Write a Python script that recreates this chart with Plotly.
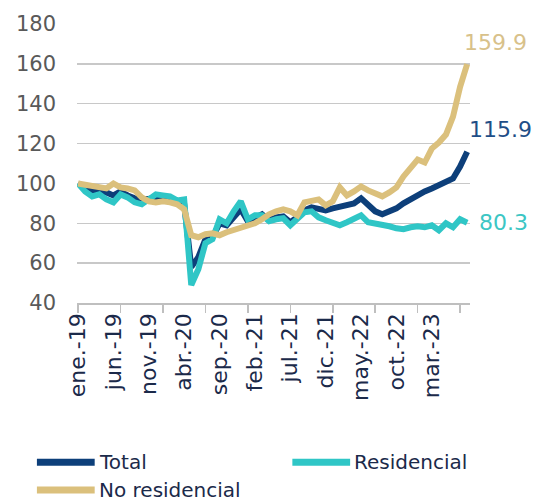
import plotly.graph_objects as go

months = ["ene.", "feb.", "mar.", "abr.", "may.", "jun.", "jul.", "ago.", "sep.", "oct.", "nov.", "dic."]
n_points = 56
x_idx = list(range(n_points))
cat_labels = [f"{months[i % 12]}-{19 + i // 12}" for i in x_idx]

total = [100, 98, 96.5, 96, 95.5, 94, 96, 94, 92.5, 92, 92, 92.5, 91.5, 91, 90, 89.5,
         58, 63, 72, 73, 80, 79, 83, 87, 81, 83, 84.5, 81.5, 83, 83.5, 80.5, 83,
         86.5, 88, 87, 86.5, 87.5, 88.5, 89, 90, 92.5, 89.5, 86, 84.5, 86, 87.5,
         90, 92, 94.5, 96, 97.5, 99, 100.5, 102.5, 108.5, 115.9]
residencial = [100, 96, 93.5, 94.5, 92, 90.5, 94.5, 93, 90.5, 89.5, 92, 94.5, 94, 93.5, 91.5, 92,
               49, 57, 70, 72, 82, 80, 86, 91, 82, 84, 84, 81, 82, 82.5, 79, 82,
               85.5, 86, 83, 81.5, 80, 79, 80.5, 82, 84, 80.5, 80, 79, 78.5, 77.5,
               77, 78, 78.5, 78, 79, 76.5, 80, 78, 82, 80.3]
no_residencial = [100, 99.5, 98.5, 98, 97.5, 100, 98, 97.5, 96.5, 93, 91, 90.5, 91, 90.5, 89.5, 87,
                  74, 73, 74.5, 75, 74, 75.5, 76.5, 77.5, 78.5, 80, 82, 84.5, 86, 87, 86, 84,
                  90.5, 91.5, 92, 89, 91, 98, 94, 96, 98.5, 96.5, 95, 93.5, 95.5, 98,
                  103.5, 107.5, 112, 110.5, 117.5, 120.5, 124.5, 133.5, 148.5, 159.9]

series_names = ["Total", "Residencial", "No residencial"]
series_values = [total, residencial, no_residencial]
series_colors = ["#0D3F7A", "#2FC6C6", "#DBC07C"]
label_colors = ["#1F4E87", "#3CC6C4", "#D8C18A"]

label_step = 5
tick_step = 6
label_idx = x_idx[:51:label_step]
y_ticks = [40, 60, 80, 100, 120, 140, 160, 180]

fig = go.Figure()
for name, vals, col in zip(series_names, series_values, series_colors):
    fig.add_trace(go.Scatter(x=x_idx, y=vals, mode="lines", name=name,
                             line=dict(color=col, width=6), showlegend=False,
                             hoverinfo="skip"))

# end-value labels
label_offsets = {"Total": (0, 22), "Residencial": (10, 0), "No residencial": (-5, 22)}
for name, vals, col in zip(series_names, series_values, label_colors):
    dx, dy = label_offsets[name]
    fig.add_annotation(x=x_idx[-1], y=vals[-1], text=f"{vals[-1]:.1f}", showarrow=False,
                       xanchor="left", yanchor="middle", xshift=dx, yshift=dy,
                       font=dict(family="DejaVu Sans", size=22, color=col))

# custom legend (paper coordinates)
legend_items = [("Total", series_colors[0], -0.102, -0.571),
                ("Residencial", series_colors[1], 0.548, -0.571),
                ("No residencial", series_colors[2], -0.102, -0.670)]
for name, col, lx, ly in legend_items:
    fig.add_shape(type="line", xref="paper", yref="paper", x0=lx, x1=lx + 0.147, y0=ly, y1=ly,
                  line=dict(color=col, width=7))
    fig.add_annotation(xref="paper", yref="paper", x=lx + 0.152, y=ly, text=name, showarrow=False,
                       xanchor="left", yanchor="middle",
                       font=dict(family="DejaVu Sans", size=20, color="#1B2A4A"))

fig.update_layout(
    width=537, height=504,
    margin=dict(l=77, r=67, t=21, b=201),
    paper_bgcolor="white", plot_bgcolor="white",
    showlegend=False,
    hovermode=False,
    font=dict(family="DejaVu Sans"),
)
fig.update_xaxes(
    range=[-0.15, 55.4],
    tickmode="array",
    tickvals=label_idx,
    ticktext=[cat_labels[i] for i in label_idx],
    tickangle=-90,
    ticks="",
    tickfont=dict(family="DejaVu Sans", size=22, color="#1B2A4A"),
    showgrid=False, zeroline=False,
    showline=True, linecolor="#BFBFBF", linewidth=1.5,
    minor=dict(tickvals=x_idx[::tick_step], ticks="outside", ticklen=8,
               tickcolor="#BFBFBF", tickwidth=1.5, showgrid=False),
)
fig.update_yaxes(
    range=[40, 180],
    tickvals=y_ticks,
    showgrid=True, gridcolor="#C8C8C8", gridwidth=1.5,
    zeroline=False, showline=False, ticks="",
    ticklabelstandoff=20,
    tickfont=dict(family="DejaVu Sans", size=21, color="#595959"),
)

fig.write_html("out.html", config={"displayModeBar": False, "staticPlot": True},
               post_script="document.body.style.margin='0';document.body.style.overflow='hidden';")
